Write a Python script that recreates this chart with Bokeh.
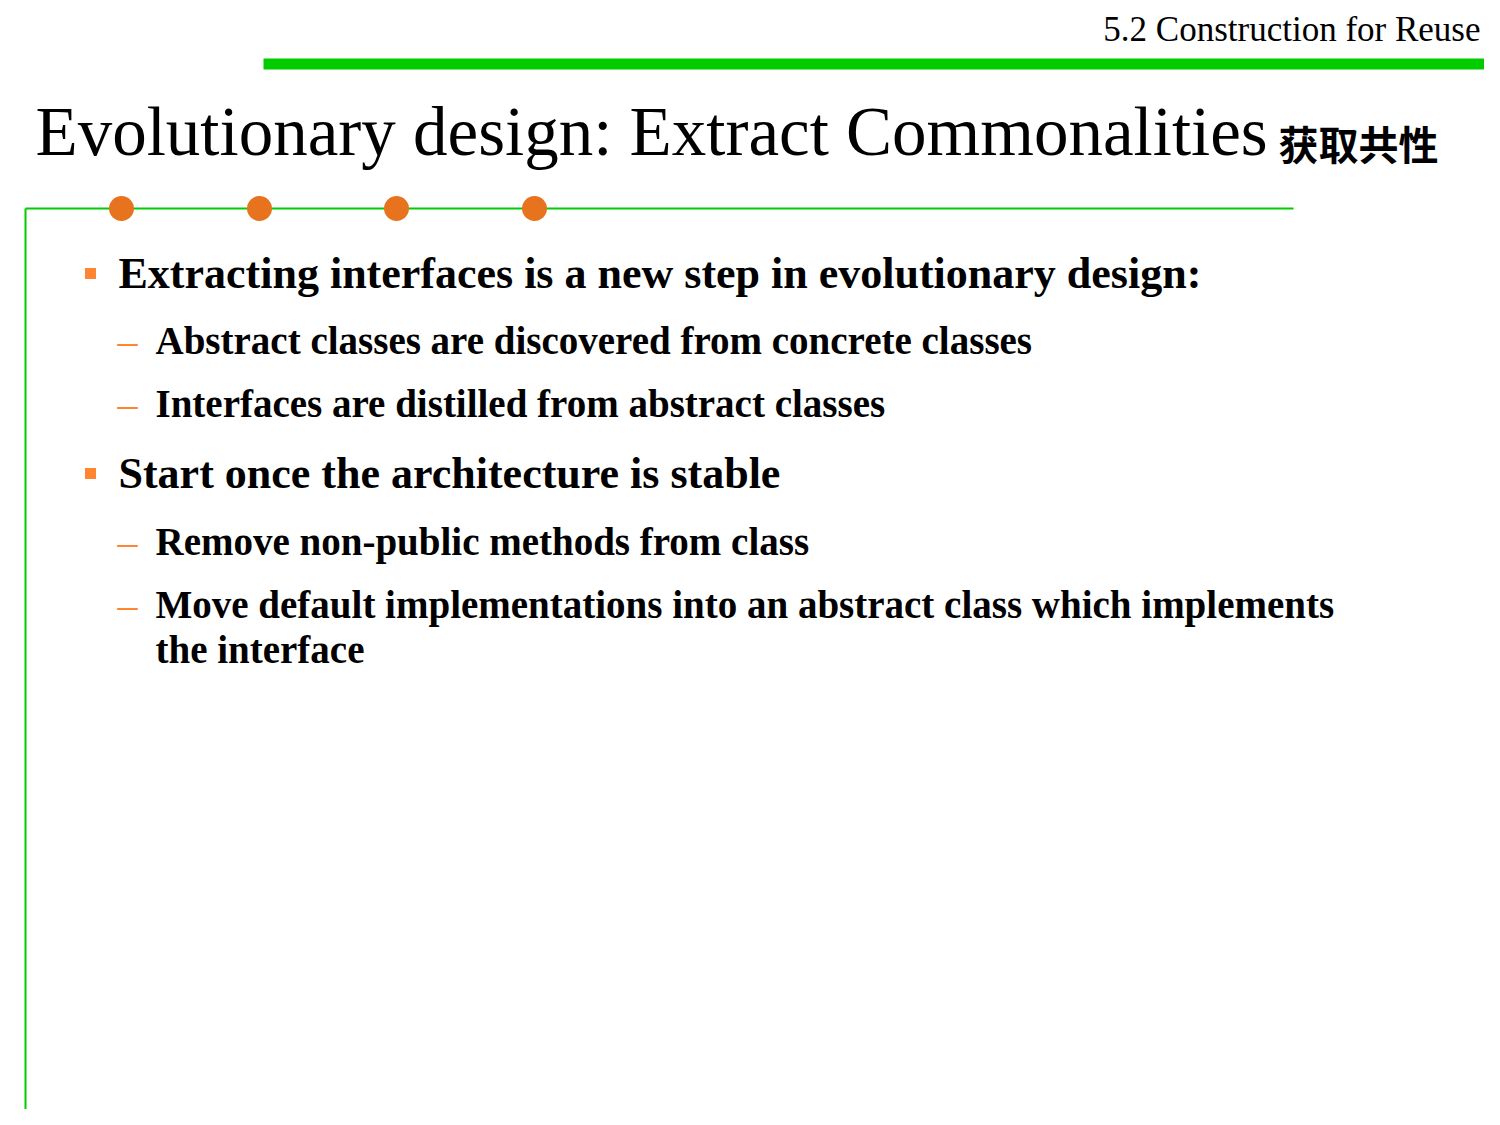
from bokeh.plotting import figure
from bokeh.models import Range1d
from bokeh.core.properties import value
from bokeh.embed import file_html
from bokeh.resources import INLINE

header = "5.2 Construction for Reuse"
title = "Evolutionary design: Extract Commonalities"
title_cjk = "获取共性"
levels = [1, 2, 2, 1, 2, 2, 3]
items = [
    "Extracting interfaces is a new step in evolutionary design:",
    "Abstract classes are discovered from concrete classes",
    "Interfaces are distilled from abstract classes",
    "Start once the architecture is stable",
    "Remove non-public methods from class",
    "Move default implementations into an abstract class which implements",
    "the interface",
]
baselines = [290, 355, 418, 490, 556, 619, 664]
dot_x = [121, 259, 396, 534]

SERIF = value("Liberation Serif")
GREEN = "#00cc00"
ORANGE = "#ff8533"


def base_y(y, size):
    # svg text sits lower than the alphabetic baseline asked for
    return y - 0.38 * size


p = figure(width=1484, height=1109, x_range=Range1d(0, 1484), y_range=Range1d(1109, 0),
           output_backend="svg", toolbar_location=None, min_border=0)
p.axis.visible = False
p.grid.visible = False
p.outline_line_color = None

# header and top bar
p.text([1480], [base_y(42, 35)], text=[header], text_font=SERIF, text_font_size="35px",
       text_align="right", text_baseline="alphabetic", text_color="black")
p.quad(left=[263], right=[1484], top=[58], bottom=[69], fill_color=GREEN, line_color=None)

# title
p.text([35], [base_y(158, 69)], text=[title], text_font=SERIF, text_font_size="69px",
       text_baseline="alphabetic", text_color="black")
p.text([1278], [base_y(158, 40)], text=[title_cjk], text_font=value("Noto Sans CJK SC"),
       text_font_style="bold", text_font_size="40px", text_baseline="alphabetic")

# frame lines and dots
p.line([25, 1293], [208, 208], line_color=GREEN, line_width=2)
p.line([25, 25], [208, 1109], line_color=GREEN, line_width=2)
p.scatter(dot_x, [208] * len(dot_x), size=25, fill_color="#e8731f", line_color=None)

# bullets
for lvl, txt, y in zip(levels, items, baselines):
    if lvl == 1:
        p.scatter([90], [y - 17], marker="square", size=11, fill_color=ORANGE, line_color=None)
        p.text([118], [base_y(y, 44)], text=[txt], text_font=SERIF, text_font_style="bold",
               text_font_size="44px", text_baseline="alphabetic")
    else:
        if lvl == 2:
            p.text([117], [base_y(y, 40)], text=["–"], text_font=SERIF, text_font_size="40px",
                   text_baseline="alphabetic", text_color=ORANGE)
        p.text([155], [base_y(y, 39)], text=[txt], text_font=SERIF, text_font_style="bold",
               text_font_size="39px", text_baseline="alphabetic")

open("out.html", "w").write(file_html(p, INLINE))
